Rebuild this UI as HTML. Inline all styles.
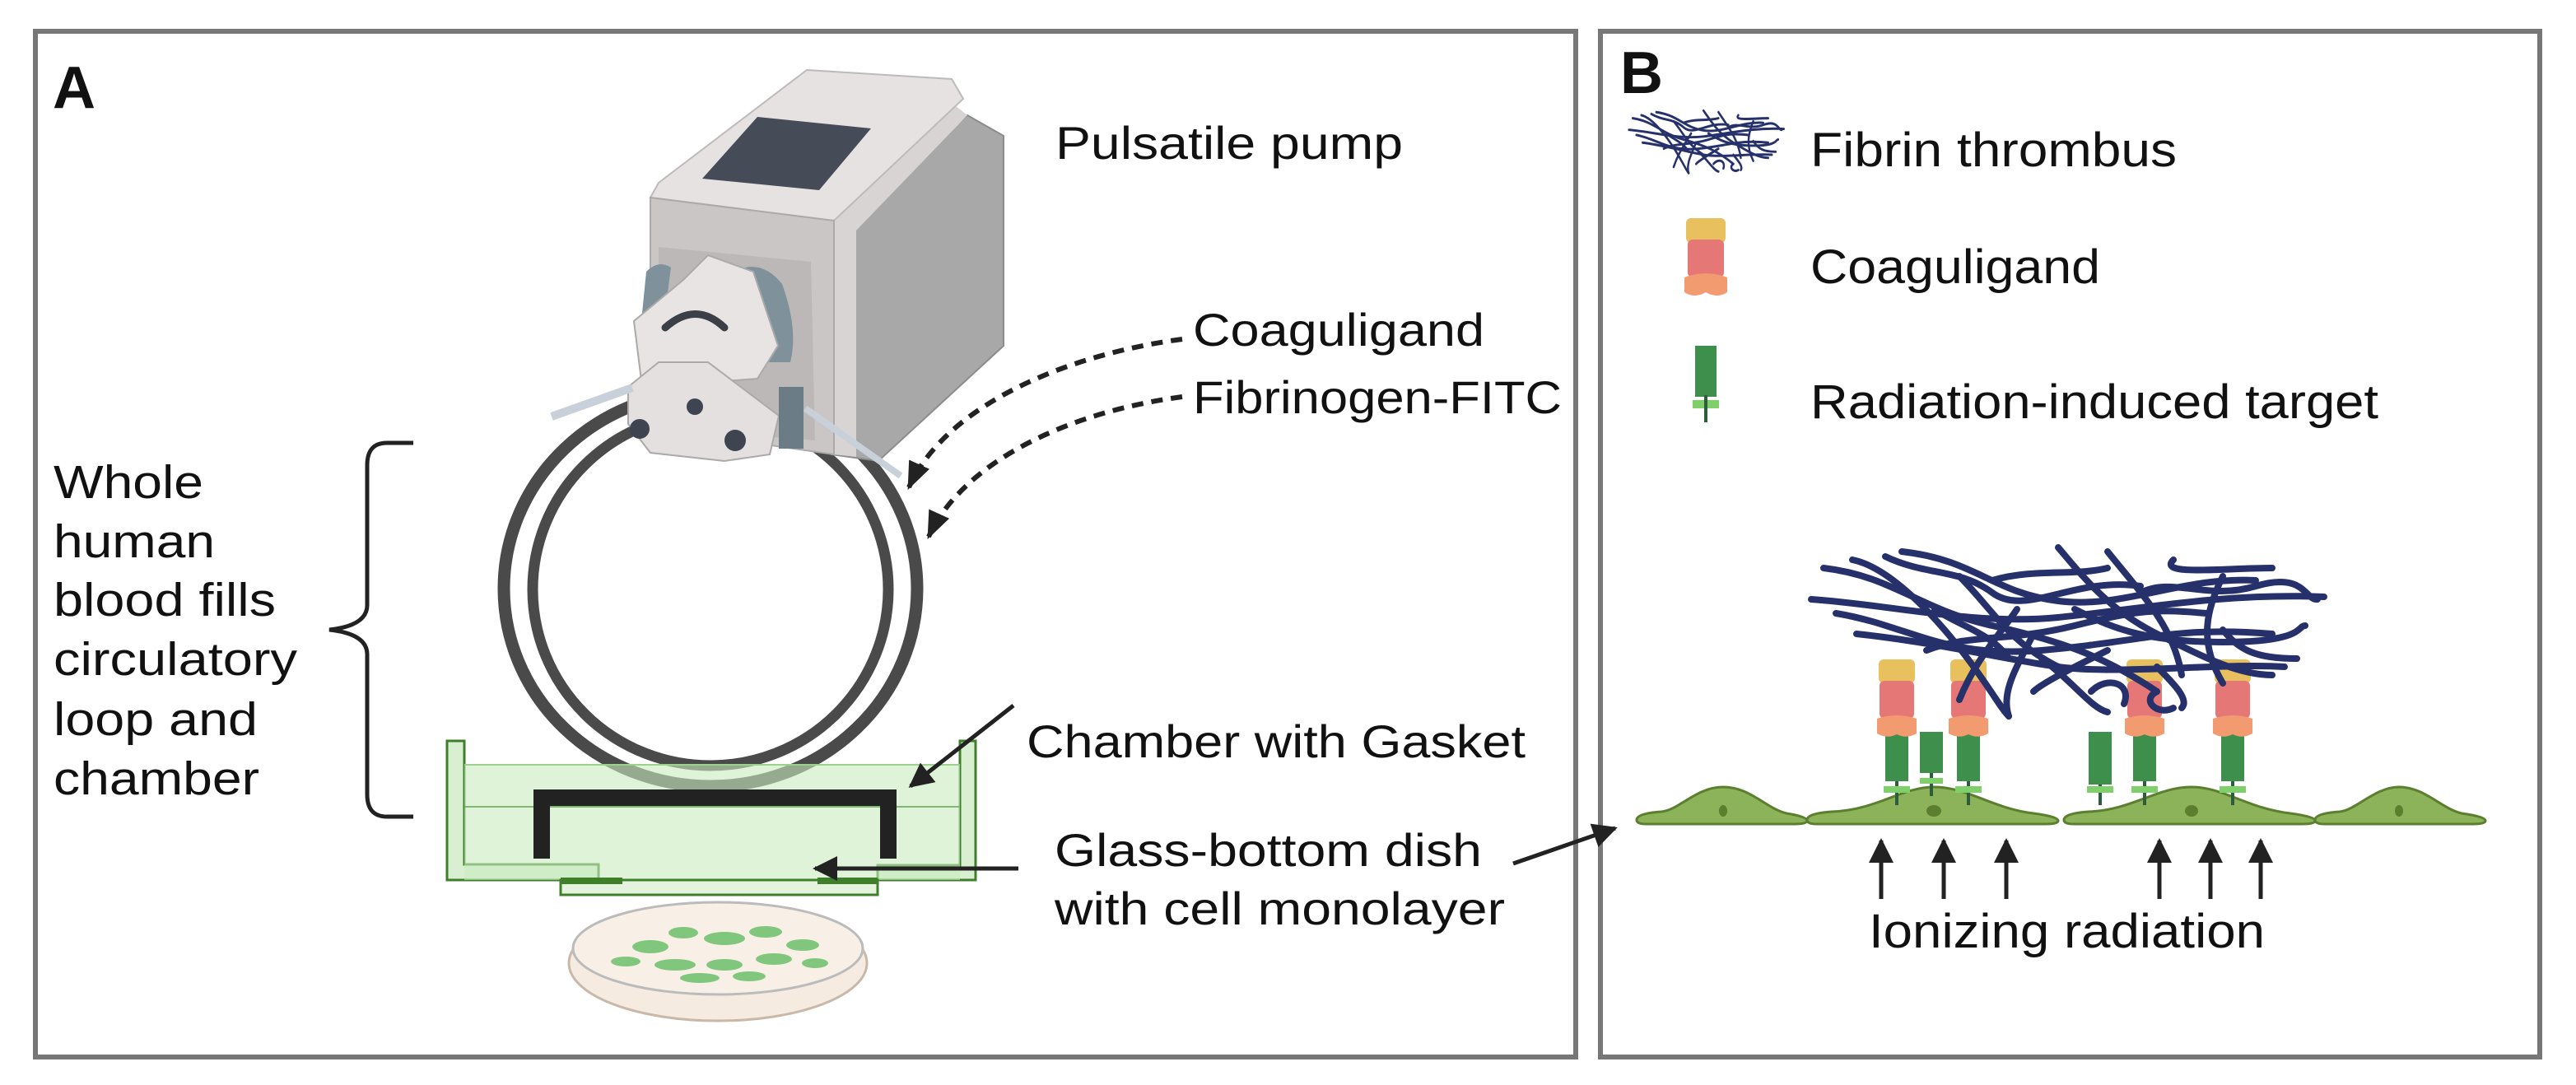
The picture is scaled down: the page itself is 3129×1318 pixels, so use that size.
<!DOCTYPE html>
<html><head><meta charset="utf-8"><style>
html,body{margin:0;padding:0;background:#fff;}
svg{display:block;}
text{font-family:"Liberation Sans",sans-serif;fill:#111;}
</style></head><body>
<svg width="3129" height="1318" viewBox="0 0 3129 1318" xmlns="http://www.w3.org/2000/svg">
<defs>
<marker id="ah2" viewBox="0 0 10 10" refX="9" refY="5" markerWidth="34" markerHeight="34" markerUnits="userSpaceOnUse" orient="auto">
<path d="M0,1 L10,5 L0,9 Z" fill="#222"/></marker>
<marker id="ah3" viewBox="0 0 10 10" refX="9" refY="5" markerWidth="30" markerHeight="30" markerUnits="userSpaceOnUse" orient="auto">
<path d="M0,0 L10,5 L0,10 Z" fill="#222"/></marker>
<g id="fib" fill="none" stroke-linecap="round">
<g stroke="#26306a" stroke-width="8">
<path d="M2215,690 C2300,700 2330,740 2420,760 S2560,800 2620,840"/>
<path d="M2250,680 C2300,690 2360,760 2390,800 S2430,860 2440,870"/>
<path d="M2310,670 C2400,680 2420,720 2500,730 S2650,700 2740,705"/>
<path d="M2500,665 C2530,700 2560,740 2620,770 S2720,820 2760,820"/>
<path d="M2560,670 C2600,720 2640,760 2650,820"/>
<path d="M2640,680 C2620,700 2700,690 2760,690"/>
<path d="M2200,728 C2300,735 2400,760 2500,750 S2700,720 2823,725"/>
<path d="M2230,745 C2320,760 2360,800 2480,790 S2640,760 2760,770"/>
<path d="M2255,770 C2350,780 2430,800 2500,810 S2700,805 2775,810"/>
<path d="M2450,740 C2430,770 2400,800 2380,850"/>
<path d="M2470,770 C2450,810 2430,840 2440,870"/>
<path d="M2560,790 C2520,810 2480,830 2470,840"/>
<path d="M2520,740 C2560,760 2600,780 2700,780 S2790,760 2800,760"/>
<path d="M2620,810 C2640,830 2660,850 2650,860"/>
<path d="M2380,700 C2420,740 2440,780 2500,810"/>
<path d="M2700,700 C2680,740 2670,780 2700,830"/>
<path d="M2540,840 C2560,820 2590,830 2580,855"/>
<path d="M2290,676 C2340,700 2380,690 2420,720 S2520,700 2600,712"/>
<path d="M2340,790 C2390,770 2440,780 2520,760 S2620,740 2680,745"/>
<path d="M2600,720 C2640,700 2680,730 2740,712 S2800,730 2815,728"/>
<path d="M2420,705 C2470,690 2520,700 2560,690"/>
<path d="M2480,800 C2520,830 2540,860 2560,865"/>
<path d="M2700,765 C2720,790 2740,800 2790,800"/>
<path d="M2350,740 C2380,760 2420,770 2440,800"/>
<path d="M2620,840 C2600,850 2620,870 2640,860"/>
</g></g>
</defs>

<rect x="43" y="38" width="1871" height="1246" fill="none" stroke="#777" stroke-width="6"/>
<rect x="1944" y="38" width="1141" height="1246" fill="none" stroke="#777" stroke-width="6"/>
<text x="64" y="131" font-size="72" font-weight="bold">A</text>
<text x="1968" y="113" font-size="72" font-weight="bold">B</text>

<text x="1282" y="193" font-size="56" textLength="422" lengthAdjust="spacingAndGlyphs">Pulsatile pump</text>
<text x="1449" y="420" font-size="56" textLength="354" lengthAdjust="spacingAndGlyphs">Coaguligand</text>
<text x="1449" y="502" font-size="56" textLength="448" lengthAdjust="spacingAndGlyphs">Fibrinogen-FITC</text>
<text font-size="57">
<tspan x="65" y="605" textLength="182" lengthAdjust="spacingAndGlyphs">Whole</tspan>
<tspan x="65" y="677" textLength="196" lengthAdjust="spacingAndGlyphs">human</tspan>
<tspan x="65" y="748" textLength="270" lengthAdjust="spacingAndGlyphs">blood fills</tspan>
<tspan x="65" y="820" textLength="296" lengthAdjust="spacingAndGlyphs">circulatory</tspan>
<tspan x="65" y="893" textLength="248" lengthAdjust="spacingAndGlyphs">loop and</tspan>
<tspan x="65" y="965" textLength="250" lengthAdjust="spacingAndGlyphs">chamber</tspan>
</text>
<text x="1247" y="920" font-size="56" textLength="606" lengthAdjust="spacingAndGlyphs">Chamber with Gasket</text>
<text x="1281" y="1052" font-size="56" textLength="519" lengthAdjust="spacingAndGlyphs">Glass-bottom dish</text>
<text x="1281" y="1123" font-size="56" textLength="547" lengthAdjust="spacingAndGlyphs">with cell monolayer</text>

<path d="M502,538 L470,538 Q446,538 446,565 L446,735 Q446,760 400,765 Q446,770 446,795 L446,965 Q446,992 470,992 L502,992" fill="none" stroke="#222" stroke-width="5"/>

<ellipse cx="863" cy="715" rx="251" ry="240" fill="none" stroke="#4a4a4a" stroke-width="15"/>
<ellipse cx="863" cy="716" rx="216" ry="214" fill="none" stroke="#4a4a4a" stroke-width="13"/>

<path d="M1436,412 C1300,430 1150,490 1104,592" fill="none" stroke="#222" stroke-width="6" stroke-dasharray="14 10" marker-end="url(#ah2)"/>
<path d="M1436,482 C1300,500 1170,560 1128,652" fill="none" stroke="#222" stroke-width="6" stroke-dasharray="14 10" marker-end="url(#ah2)"/>

<polygon points="1013,280 1175,140 1219,165 1219,420 1067,560 1010,552" fill="#a8a8a8" stroke="#8c8c8c" stroke-width="2"/>
<polygon points="1013,268 1150,120 1175,140 1040,280 1040,555 1013,552" fill="#d8d4d4"/>
<polygon points="980,85 1156,96 1170,120 1013,268 790,240 800,222" fill="#e6e2e2" stroke="#bbb" stroke-width="2"/>
<polygon points="790,240 1013,268 1013,552 790,520" fill="#cbc6c6" stroke="#aaa" stroke-width="2"/>
<polygon points="920,142 1058,156 995,231 853,217" fill="#454b57"/>
<polygon points="800,300 985,318 990,535 800,520" fill="#bdb8b8"/>
<path d="M785,330 Q800,315 815,325 L800,440 Q780,430 778,400 Z" fill="#7f929c"/>
<path d="M905,325 Q930,320 950,345 Q970,400 960,440 L915,440 Z" fill="#7f929c"/>
<polygon points="770,390 830,340 860,310 915,330 945,420 920,460 780,470" fill="#e8e4e4" stroke="#aaa" stroke-width="2"/>
<path d="M808,398 Q845,365 880,398" fill="none" stroke="#3b3f47" stroke-width="9" stroke-linecap="round"/>
<polygon points="763,470 800,440 860,440 946,505 935,552 880,560 790,550 763,515" fill="#e4e0e0" stroke="#aaa" stroke-width="2"/>
<rect x="946" y="470" width="30" height="75" fill="#6c7c87"/>
<path d="M670,506 L768,471" stroke="#c8d0da" stroke-width="10" fill="none"/>
<path d="M978,496 L1094,578" stroke="#c8d0da" stroke-width="8" fill="none"/>
<circle cx="777" cy="521" r="12" fill="#3e4550"/>
<circle cx="893" cy="535" r="13" fill="#3e4550"/>
<circle cx="844" cy="494" r="10" fill="#3e4550"/>

<polygon points="543,900 564,900 564,1050 727,1050 727,1069 543,1069" fill="#d8efd1" stroke="#3f7f2b" stroke-width="3"/>
<polygon points="1166,900 1185,900 1185,1069 1066,1069 1066,1051 1166,1051" fill="#d8efd1" stroke="#3f7f2b" stroke-width="3"/>
<rect x="564" y="929" width="602" height="140" fill="#c9ebc0" fill-opacity="0.6"/>
<line x1="564" y1="929" x2="1166" y2="929" stroke="#9fcf90" stroke-width="2"/>
<line x1="564" y1="980" x2="1166" y2="980" stroke="#7fb870" stroke-width="2"/>
<rect x="681" y="1069" width="385" height="18" fill="#e3f3dc" stroke="#3f7f2b" stroke-width="3"/>
<rect x="681" y="1066" width="75" height="8" fill="#3f7f2b"/>
<rect x="993" y="1066" width="73" height="8" fill="#3f7f2b"/>
<path d="M658,1043 L658,969 L1079,969 L1079,1043" fill="none" stroke="#222" stroke-width="20"/>

<line x1="1231" y1="857" x2="1106" y2="955" stroke="#222" stroke-width="5" marker-end="url(#ah3)"/>
<line x1="1237" y1="1055" x2="990" y2="1055" stroke="#222" stroke-width="5" marker-end="url(#ah3)"/>
<line x1="1838" y1="1049" x2="1962" y2="1006" stroke="#222" stroke-width="5" marker-end="url(#ah3)"/>

<ellipse cx="872" cy="1170" rx="181" ry="70" fill="#f5ebe1" stroke="#c9b8a8" stroke-width="3"/>
<ellipse cx="872" cy="1152" rx="176" ry="56" fill="#f8efe6" stroke="#bbb" stroke-width="3"/>
<g fill="#6cc06a" opacity="0.85">
<ellipse cx="790" cy="1150" rx="22" ry="8"/><ellipse cx="830" cy="1133" rx="18" ry="7"/>
<ellipse cx="880" cy="1140" rx="25" ry="8"/><ellipse cx="930" cy="1132" rx="20" ry="7"/>
<ellipse cx="975" cy="1148" rx="20" ry="7"/><ellipse cx="760" cy="1168" rx="18" ry="6"/>
<ellipse cx="820" cy="1172" rx="25" ry="7"/><ellipse cx="880" cy="1172" rx="22" ry="7"/>
<ellipse cx="940" cy="1165" rx="22" ry="7"/><ellipse cx="990" cy="1170" rx="16" ry="6"/>
<ellipse cx="850" cy="1188" rx="24" ry="6"/><ellipse cx="910" cy="1186" rx="20" ry="6"/>
</g>

<use href="#fib" transform="translate(1978,134) scale(0.302,0.37) translate(-2198,-664)"/>
<text x="2199" y="202" font-size="58" textLength="445" lengthAdjust="spacingAndGlyphs">Fibrin thrombus</text>
<g transform="translate(2072,265)">
<rect x="-24" y="0" width="48" height="30" rx="6" fill="#e8c15e"/>
<rect x="-22" y="26" width="44" height="46" rx="6" fill="#e57876"/>
<path d="M-26,72 Q0,62 26,72 L26,90 Q14,98 0,90 Q-14,98 -26,90 Z" fill="#f29a70"/>
</g>
<text x="2199" y="344" font-size="58" textLength="352" lengthAdjust="spacingAndGlyphs">Coaguligand</text>
<g transform="translate(2072,420)">
<rect x="-13" y="0" width="26" height="62" fill="#3e8f4c"/>
<rect x="-16" y="66" width="32" height="10" fill="#7fd06a"/>
<rect x="-2" y="60" width="4" height="33" fill="#2d5d3c"/>
</g>
<text x="2199" y="508" font-size="58" textLength="690" lengthAdjust="spacingAndGlyphs">Radiation-induced target</text>

<g fill="#8db35a" stroke="#5b7f2e" stroke-width="3">
<path d="M1988,996 Q1988,988 2018,986 C2040,984 2060,956 2093,956 C2126,956 2145,982 2170,988 Q2195,992 2195,997 Q2195,1001 2180,1001 L2000,1001 Q1988,1001 1988,996 Z"/>
<path d="M2195,996 Q2195,988 2225,986 C2280,984 2310,956 2349,956 C2390,956 2420,982 2470,988 Q2500,992 2500,997 Q2500,1001 2485,1001 L2207,1001 Q2195,1001 2195,996 Z"/>
<path d="M2507,996 Q2507,988 2537,986 C2590,984 2620,956 2662,956 C2700,956 2730,982 2782,988 Q2812,992 2812,997 Q2812,1001 2797,1001 L2519,1001 Q2507,1001 2507,996 Z"/>
<path d="M2812,996 Q2812,988 2842,986 C2862,984 2885,956 2914,956 C2945,956 2965,982 2990,988 Q3019,992 3019,997 Q3019,1001 3004,1001 L2824,1001 Q2812,1001 2812,996 Z"/>
</g>
<g fill="#5b7f2e">
<ellipse cx="2093" cy="985" rx="5" ry="7"/><ellipse cx="2349" cy="985" rx="9" ry="7"/>
<ellipse cx="2662" cy="985" rx="8" ry="7"/><ellipse cx="2914" cy="985" rx="5" ry="7"/>
</g>

<g>
<g transform="translate(2304,0)"><rect x="-14" y="892" width="28" height="57" fill="#3e8f4c"/><rect x="-2" y="949" width="4" height="29" fill="#2d5d3c"/><rect x="-16" y="955" width="32" height="8" fill="#7fd06a"/></g>
<g transform="translate(2346,0)"><rect x="-14" y="889" width="28" height="50" fill="#3e8f4c"/><rect x="-2" y="939" width="4" height="28" fill="#2d5d3c"/><rect x="-14" y="945" width="28" height="7" fill="#7fd06a"/></g>
<g transform="translate(2391,0)"><rect x="-14" y="892" width="28" height="57" fill="#3e8f4c"/><rect x="-2" y="949" width="4" height="29" fill="#2d5d3c"/><rect x="-16" y="955" width="32" height="8" fill="#7fd06a"/></g>
<g transform="translate(2551,0)"><rect x="-14" y="889" width="28" height="64" fill="#3e8f4c"/><rect x="-2" y="953" width="4" height="25" fill="#2d5d3c"/><rect x="-16" y="955" width="32" height="8" fill="#7fd06a"/></g>
<g transform="translate(2605,0)"><rect x="-14" y="892" width="28" height="57" fill="#3e8f4c"/><rect x="-2" y="949" width="4" height="29" fill="#2d5d3c"/><rect x="-16" y="955" width="32" height="8" fill="#7fd06a"/></g>
<g transform="translate(2712,0)"><rect x="-14" y="892" width="28" height="57" fill="#3e8f4c"/><rect x="-2" y="949" width="4" height="29" fill="#2d5d3c"/><rect x="-16" y="955" width="32" height="8" fill="#7fd06a"/></g>
</g>
<g>
<g transform="translate(2304,801)"><rect x="-22" y="0" width="44" height="29" rx="6" fill="#e8c15e"/><rect x="-21" y="26" width="42" height="46" rx="6" fill="#e57876"/><path d="M-24,72 Q0,64 24,72 L24,90 Q12,97 0,91 Q-12,97 -24,90 Z" fill="#f29a70"/></g>
<g transform="translate(2391,801)"><rect x="-22" y="0" width="44" height="29" rx="6" fill="#e8c15e"/><rect x="-21" y="26" width="42" height="46" rx="6" fill="#e57876"/><path d="M-24,72 Q0,64 24,72 L24,90 Q12,97 0,91 Q-12,97 -24,90 Z" fill="#f29a70"/></g>
<g transform="translate(2605,801)"><rect x="-22" y="0" width="44" height="29" rx="6" fill="#e8c15e"/><rect x="-21" y="26" width="42" height="46" rx="6" fill="#e57876"/><path d="M-24,72 Q0,64 24,72 L24,90 Q12,97 0,91 Q-12,97 -24,90 Z" fill="#f29a70"/></g>
<g transform="translate(2712,801)"><rect x="-22" y="0" width="44" height="29" rx="6" fill="#e8c15e"/><rect x="-21" y="26" width="42" height="46" rx="6" fill="#e57876"/><path d="M-24,72 Q0,64 24,72 L24,90 Q12,97 0,91 Q-12,97 -24,90 Z" fill="#f29a70"/></g>
</g>
<use href="#fib"/>

<g stroke="#222" stroke-width="5" marker-end="url(#ah3)">
<line x1="2285" y1="1092" x2="2285" y2="1021"/>
<line x1="2361" y1="1092" x2="2361" y2="1021"/>
<line x1="2437" y1="1092" x2="2437" y2="1021"/>
<line x1="2623" y1="1092" x2="2623" y2="1021"/>
<line x1="2685" y1="1092" x2="2685" y2="1021"/>
<line x1="2746" y1="1092" x2="2746" y2="1021"/>
</g>
<text x="2270" y="1151" font-size="58" textLength="481" lengthAdjust="spacingAndGlyphs">Ionizing radiation</text>
</svg>
</body></html>
